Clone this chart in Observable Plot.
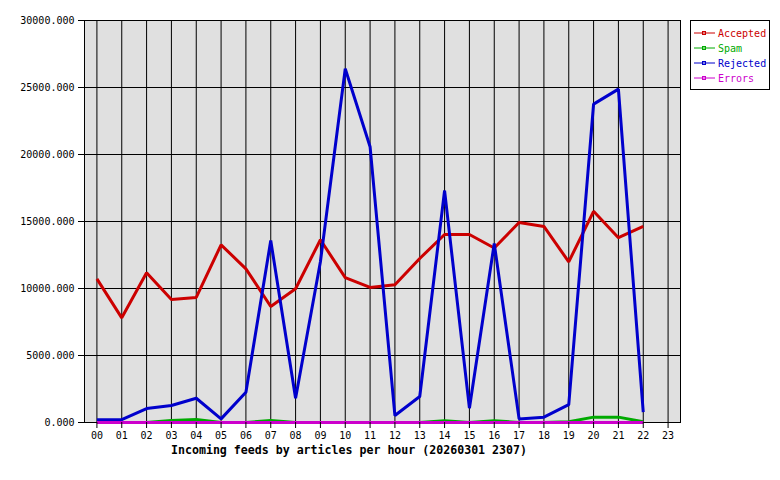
<!DOCTYPE html>
<html>
<head>
<meta charset="utf-8">
<script src="https://cdn.jsdelivr.net/npm/d3@7"></script>
<script src="https://cdn.jsdelivr.net/npm/@observablehq/plot@0.6"></script>
<style>
  html, body { margin: 0; padding: 0; background: #ffffff; }
  #wrap { position: relative; width: 780px; height: 480px; font-family: "DejaVu Sans Mono", monospace; }
  #title { position: absolute; left: 0; width: 698px; top: 443px; text-align: center; font-weight: bold; font-size: 11.6px; color: #000; white-space: pre; }
  #legend { position: absolute; left: 690px; top: 20px; width: 78px; height: 68px; border: 1px solid #000; background: #fff; font-size: 10px; }
  .row { position: absolute; left: 3px; height: 12px; display: flex; align-items: center; }
  .row svg { display: block; margin-right: 3px; }
</style>
</head>
<body>
<div id="wrap">
  <div id="chart"></div>
  <div id="legend"></div>
  <div id="title">Incoming feeds by articles per hour (20260301 2307)</div>
</div>
<script>
const hours = ["00","01","02","03","04","05","06","07","08","09","10","11","12","13","14","15","16","17","18","19","20","21","22","23"];
const seriesNames = ["Accepted", "Spam", "Rejected", "Errors"];
const seriesColors = ["#cc0000", "#00aa00", "#0000cc", "#cc00cc"];
const yTicks = [0, 5000, 10000, 15000, 20000, 25000, 30000];

const accepted = [10720, 7810, 11170, 9180, 9330, 13260, 11470, 8660, 9980, 13640, 10810, 10080, 10280, 12240, 14030, 14030, 13020, 14930, 14630, 11990, 15760, 13790, 14640];
const spam     = [0, 0, 0, 150, 230, 0, 0, 150, 0, 0, 0, 0, 0, 0, 140, 0, 140, 0, 0, 60, 400, 400, 60];
const rejected = [200, 220, 1040, 1270, 1810, 270, 2260, 13580, 1810, 12000, 26400, 20580, 520, 1940, 17310, 1070, 13360, 270, 400, 1340, 23760, 24880, 770];
const errors   = [0, 0, 0, 0, 0, 0, 0, 0, 0, 0, 0, 0, 0, 0, 0, 0, 0, 0, 0, 0, 0, 0, 0];

const seriesValues = [accepted, spam, rejected, errors];
const hourIdx = hours.map((h, i) => i);
const lineMarks = seriesNames.map((name, s) =>
  Plot.line(seriesValues[s].map((v, i) => ({ hour: i, value: v })), {
    x: "hour", y: "value", stroke: seriesColors[s], strokeWidth: 3,
    strokeLinejoin: "miter", strokeLinecap: "butt"
  })
);

const chart = Plot.plot({
  width: 780,
  height: 480,
  marginLeft: 84,
  marginRight: 100,
  marginTop: 20,
  marginBottom: 58,
  style: { fontFamily: "'DejaVu Sans Mono', monospace", fontSize: "10px", color: "#000", background: "#fff", overflow: "visible" },
  x: { type: "linear", domain: [-0.5, hours.length - 0.5], label: null },
  y: { domain: [0, 30000], label: null },
  marks: [
    Plot.frame({ fill: "#e0e0e0", stroke: "#000", strokeWidth: 1 }),
    Plot.gridX(hourIdx, { stroke: "#000", strokeOpacity: 1, strokeWidth: 1 }),
    Plot.gridY(yTicks, { stroke: "#000", strokeOpacity: 1, strokeWidth: 1 }),
    ...lineMarks,
    Plot.axisX({ ticks: hourIdx, tickFormat: i => hours[i], tickSize: 6, tickPadding: 3, stroke: "#000", fill: "#000", label: null }),
    Plot.axisY({ ticks: yTicks, tickSize: 6, tickPadding: 4, tickFormat: d3.format(".3f"), stroke: "#000", fill: "#000", label: null })
  ]
});
document.getElementById("chart").appendChild(chart);

// legend
const legend = document.getElementById("legend");
seriesNames.forEach((name, i) => {
  const row = document.createElement("div");
  row.className = "row";
  row.style.top = (6 + i * 15) + "px";
  row.innerHTML = `<svg width="21" height="6"><line x1="0" y1="3" x2="21" y2="3" stroke="${seriesColors[i]}" stroke-width="1"/><rect x="8.5" y="1.5" width="3" height="3" fill="none" stroke="${seriesColors[i]}" stroke-width="1"/></svg><span style="color:${seriesColors[i]}">${name}</span>`;
  legend.appendChild(row);
});
</script>
</body>
</html>
